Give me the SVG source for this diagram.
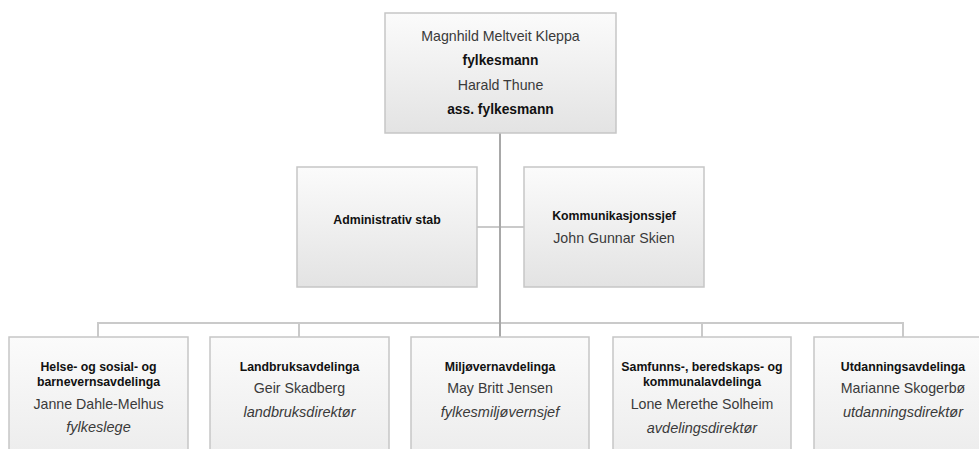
<svg xmlns="http://www.w3.org/2000/svg" width="979" height="449" viewBox="0 0 979 449">
<defs>
<linearGradient id="g" x1="0" y1="0" x2="0" y2="1">
<stop offset="0" stop-color="#fbfbfb"/>
<stop offset="1" stop-color="#e3e3e3"/>
</linearGradient>
<linearGradient id="gb" x1="0" y1="0" x2="0" y2="1">
<stop offset="0" stop-color="#fbfbfb"/>
<stop offset="1" stop-color="#ebebeb"/>
</linearGradient>
<style>
.box{fill:url(#g);stroke:#c6c6c6;stroke-width:1.5}
.bbox{fill:url(#gb);stroke:#c6c6c6;stroke-width:1.5}
text{font-family:"Liberation Sans",Arial,sans-serif;text-anchor:middle}
.r{font-size:14.2px;fill:#3a3a3a}
.b{font-size:12.3px;font-weight:bold;fill:#111}
.bt{font-size:13.8px;font-weight:bold;fill:#111}
.i{font-size:14.5px;font-style:italic;fill:#3a3a3a}
.trunk{stroke:#a8a8a8;stroke-width:2;fill:none}
.ln{stroke:#cacaca;stroke-width:2;fill:none}
</style>
</defs>
<g id="connectors">
<line class="ln" x1="477" y1="227" x2="524" y2="227"/>
<path class="ln" d="M98 337V323H903V337M299 323V337M702 323V337"/>
<line class="trunk" x1="500" y1="133" x2="500" y2="337"/>
</g>
<g id="top">
<rect class="box" x="385" y="13" width="231" height="120"/>
<text class="r" x="500.5" y="41">Magnhild Meltveit Kleppa</text>
<text class="bt" x="500.5" y="65">fylkesmann</text>
<text class="r" x="500.5" y="90">Harald Thune</text>
<text class="bt" x="500.5" y="114">ass. fylkesmann</text>
</g>
<g id="admin">
<rect class="box" x="297" y="167" width="180" height="120"/>
<text class="b" x="387" y="224">Administrativ stab</text>
</g>
<g id="komm">
<rect class="box" x="524" y="167" width="180" height="120"/>
<text class="b" x="614" y="220">Kommunikasjonssjef</text>
<text class="r" x="614" y="243">John Gunnar Skien</text>
</g>
<g id="helse">
<rect class="bbox" x="9" y="337" width="179" height="130"/>
<text class="b" x="98.5" y="371">Helse- og sosial- og</text>
<text class="b" x="98.5" y="386">barnevernsavdelinga</text>
<text class="r" x="98.5" y="409">Janne Dahle-Melhus</text>
<text class="i" x="98.5" y="432">fylkeslege</text>
</g>
<g id="landbruk">
<rect class="bbox" x="210" y="337" width="179" height="130"/>
<text class="b" x="299.5" y="371">Landbruksavdelinga</text>
<text class="r" x="299.5" y="393">Geir Skadberg</text>
<text class="i" x="299.5" y="417">landbruksdirektør</text>
</g>
<g id="miljo">
<rect class="bbox" x="411" y="337" width="178" height="130"/>
<text class="b" x="500" y="371">Miljøvernavdelinga</text>
<text class="r" x="500" y="393">May Britt Jensen</text>
<text class="i" x="500" y="417">fylkesmiljøvernsjef</text>
</g>
<g id="samfunn">
<rect class="bbox" x="613" y="337" width="178" height="130"/>
<text class="b" x="702" y="371">Samfunns-, beredskaps- og</text>
<text class="b" x="702" y="386">kommunalavdelinga</text>
<text class="r" x="702" y="409">Lone Merethe Solheim</text>
<text class="i" x="702" y="433">avdelingsdirektør</text>
</g>
<g id="utdanning">
<rect class="bbox" x="814" y="337" width="178" height="130"/>
<text class="b" x="903" y="371">Utdanningsavdelinga</text>
<text class="r" x="903" y="393">Marianne Skogerbø</text>
<text class="i" x="903" y="417">utdanningsdirektør</text>
</g>
</svg>
